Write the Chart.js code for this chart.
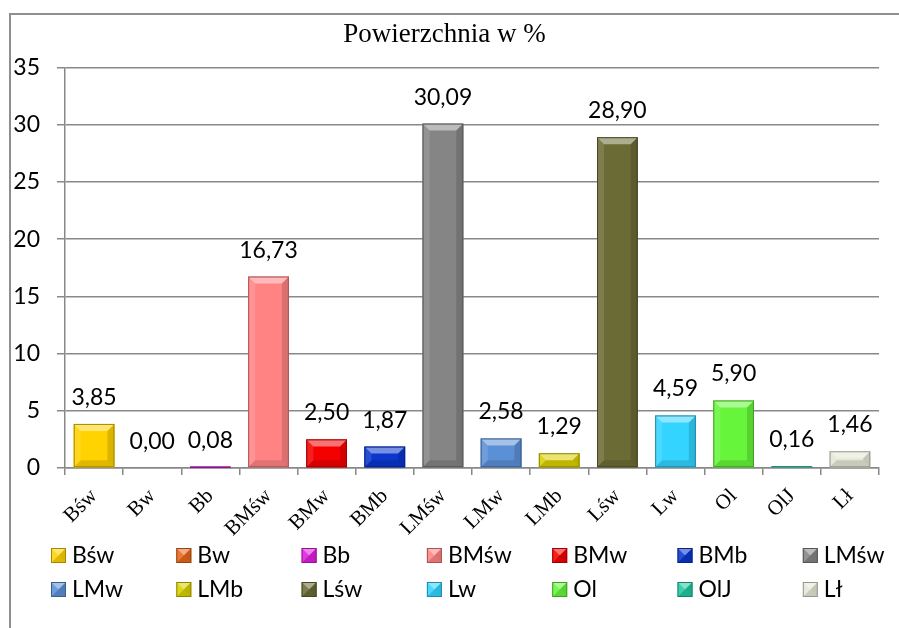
<!DOCTYPE html>
<html>
<head>
<meta charset="utf-8">
<script src="https://cdn.jsdelivr.net/npm/chart.js@4.4.1/dist/chart.umd.min.js"></script>
<style>
  html, body { margin: 0; padding: 0; background: #fff; }
  #wrap { width: 899px; height: 628px; position: relative; }
</style>
</head>
<body>
<div id="wrap"><canvas id="chart"></canvas></div>
<script>
// data
const categories = ['Bśw', 'Bw', 'Bb', 'BMśw', 'BMw', 'BMb', 'LMśw', 'LMw', 'LMb', 'Lśw', 'Lw', 'Ol', 'OlJ', 'Lł'];
const values = [3.85, 0.00, 0.08, 16.73, 2.50, 1.87, 30.09, 2.58, 1.29, 28.90, 4.59, 5.90, 0.16, 1.46];
const barColors = ['#FFD200', '#E8661C', '#E01EE0', '#FF8383', '#F50000', '#0A36CC', '#858585',
  '#5C90D6', '#D9D000', '#6B6B36', '#33D4FF', '#66F53A', '#22C9A0', '#E4E8D6'];
const yMax = 35;
const yStep = 5;
const titleText = 'Powierzchnia w %';

const SANS = 'Lato, "Open Sans", sans-serif';
const SERIF = '"Liberation Serif", "DejaVu Serif", serif';

function shade(hex, amt) {
  let n = parseInt(hex.slice(1), 16);
  let r = (n >> 16) & 255, g = (n >> 8) & 255, b = n & 255;
  const f = v => Math.max(0, Math.min(255, Math.round(amt < 0 ? v * (1 + amt) : v + (255 - v) * amt)));
  return 'rgb(' + f(r) + ',' + f(g) + ',' + f(b) + ')';
}

// beveled box like the excel "3D" look
function bevel(ctx, l, t, r, b, color) {
  const w = r - l, h = b - t;
  if (w <= 0 || h <= 0) return;
  ctx.save();
  ctx.fillStyle = color;
  ctx.fillRect(l, t, w, h);
  const d = Math.min(7, w / 2, h / 2);
  const poly = (pts, fill) => {
    ctx.beginPath();
    ctx.moveTo(pts[0][0], pts[0][1]);
    for (let i = 1; i < pts.length; i++) ctx.lineTo(pts[i][0], pts[i][1]);
    ctx.closePath();
    ctx.fillStyle = fill;
    ctx.fill();
  };
  poly([[l, t], [r, t], [r - d, t + d], [l + d, t + d]], 'rgba(255,255,255,0.45)');
  poly([[l, b], [r, b], [r - d, b - d], [l + d, b - d]], 'rgba(0,0,0,0.12)');
  poly([[l, t], [l + d, t + d], [l + d, b - d], [l, b]], 'rgba(255,255,255,0.12)');
  poly([[r, t], [r - d, t + d], [r - d, b - d], [r, b]], 'rgba(0,0,0,0.14)');
  ctx.strokeStyle = shade(color, -0.35);
  ctx.lineWidth = 1;
  ctx.strokeRect(l + 0.5, t + 0.5, w - 1, h - 1);
  ctx.restore();
}

const frame = {
  id: 'frame',
  beforeDraw(chart) {
    const ctx = chart.ctx;
    ctx.save();
    ctx.fillStyle = '#fff';
    ctx.fillRect(0, 0, chart.width, chart.height);
    ctx.strokeStyle = '#8f8f8f';
    ctx.lineWidth = 2;
    ctx.beginPath();
    ctx.moveTo(10, chart.height + 2);
    ctx.lineTo(10, 14);
    ctx.lineTo(chart.width + 2, 14);
    ctx.stroke();
    ctx.restore();
  }
};

const bars3d = {
  id: 'bars3d',
  afterDatasetsDraw(chart) {
    const ctx = chart.ctx;
    const meta = chart.getDatasetMeta(0);
    meta.data.forEach((el, i) => {
      const p = el.getProps(['x', 'y', 'base', 'width'], true);
      bevel(ctx, p.x - p.width / 2, p.y, p.x + p.width / 2, p.base, barColors[i]);
    });
    // value labels
    ctx.save();
    ctx.font = '23px ' + SANS;
    ctx.fillStyle = '#000';
    ctx.textAlign = 'center';
    ctx.textBaseline = 'alphabetic';
    meta.data.forEach((el, i) => {
      ctx.fillText(values[i].toFixed(2).replace('.', ','), el.x, el.y - 19);
    });
    ctx.restore();
  }
};

const legendGrid = {
  id: 'legendGrid',
  afterDraw(chart) {
    const ctx = chart.ctx;
    const left = chart.chartArea.left - 14;
    const colW = 125.3;
    const top = 548;
    const rowH = 34;
    ctx.save();
    ctx.font = '23px ' + SANS;
    ctx.textBaseline = 'middle';
    categories.forEach((c, i) => {
      const x = left + (i % 7) * colW;
      const y = top + Math.floor(i / 7) * rowH;
      bevel(ctx, x, y, x + 15, y + 15, barColors[i]);
      ctx.fillStyle = '#000';
      ctx.fillText(c, x + 21, y + 8);
    });
    ctx.restore();
  }
};

new Chart(document.getElementById('chart'), {
  type: 'bar',
  data: {
    labels: categories,
    datasets: [{
      data: values,
      backgroundColor: barColors,
      borderWidth: 0,
      barPercentage: 0.7,
      categoryPercentage: 1
    }]
  },
  options: {
    responsive: true,
    maintainAspectRatio: false,
    animation: false,
    layout: { padding: { left: 10, right: 20, top: 0, bottom: 80 } },
    plugins: {
      legend: { display: false },
      tooltip: { enabled: false },
      title: {
        display: true,
        text: titleText,
        color: '#000',
        font: { family: SERIF, size: 27, weight: 'normal' },
        padding: { top: 19, bottom: 16 }
      }
    },
    scales: {
      x: {
        offset: true,
        grid: { display: true, drawOnChartArea: false, color: '#888', lineWidth: 1.5, tickLength: 7, offset: true },
        border: { color: '#888', width: 1.5 },
        ticks: {
          color: '#000',
          font: { family: SERIF, size: 21 },
          maxRotation: 45,
          minRotation: 45,
          padding: 9,
          autoSkip: false
        },
        afterFit(s) { s.height = 80; s.paddingLeft = 0; s.paddingRight = 0; }
      },
      y: {
        min: 0,
        max: yMax,
        ticks: {
          stepSize: yStep,
          color: '#000',
          font: { family: SANS, size: 23 },
          padding: 17
        },
        grid: { color: '#888', lineWidth: 1.5, tickLength: 8 },
        border: { color: '#888', width: 1.5 },
        afterFit(s) { s.width = 55; }
      }
    }
  },
  plugins: [frame, bars3d, legendGrid]
});
</script>
</body>
</html>
